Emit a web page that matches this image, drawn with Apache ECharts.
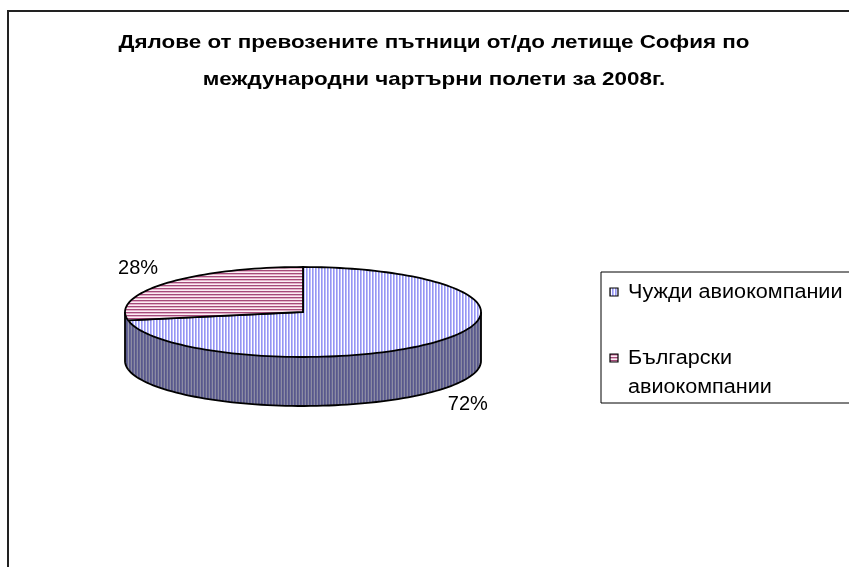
<!DOCTYPE html>
<html>
<head>
<meta charset="UTF-8">
<title>Дялове от превозените пътници</title>
<script src="https://cdn.jsdelivr.net/npm/echarts@6/dist/echarts.min.js"></script>
<style>
  html, body { margin: 0; padding: 0; background: #fff; }
  #main { width: 849px; height: 567px; }
</style>
</head>
<body>
<div id="main"></div>
<script>
var categories = ['Чужди авиокомпании', 'Български авиокомпании'];
var shares = [72, 28];
var legendLines = [['Чужди авиокомпании'], ['Български', 'авиокомпании']];
var titleLines = ['Дялове от превозените пътници от/до летище София по', 'международни чартърни полети за 2008г.'];

// 3d pie geometry
var cx = 303, cy = 312, rx = 178, ry = 45, depth = 49;
var FONT = '"Liberation Sans", Arial, sans-serif';

function stripes(colors, vertical) {
  var c = document.createElement('canvas');
  c.width = vertical ? colors.length : 1;
  c.height = vertical ? 1 : colors.length;
  var ctx = c.getContext('2d');
  colors.forEach(function (col, i) {
    ctx.fillStyle = col;
    if (vertical) ctx.fillRect(i, 0, 1, 1);
    else ctx.fillRect(0, i, 1, 1);
  });
  return { image: c, repeat: 'repeat' };
}

var fills = [
  stripes(['#9696f2', '#bcbcfc', '#ffffff'], true),
  stripes(['#a44a7a', '#e4b0ca', '#fbeef4'], false)
];
var sideFill = stripes(['#58588a', '#666696', '#8c8ca2'], true);

var total = shares.reduce(function (a, b) { return a + b; }, 0);

function pt(a, dy) {
  var r = a * Math.PI / 180;
  return [cx + rx * Math.cos(r), cy - ry * Math.sin(r) + (dy || 0)];
}
function arc(a0, a1, dy) {
  var n = Math.max(2, Math.ceil(Math.abs(a0 - a1) / 2));
  var pts = [];
  for (var i = 0; i <= n; i++) pts.push(pt(a0 + (a1 - a0) * i / n, dy));
  return pts;
}

function renderSlice(params, api) {
  var i = params.dataIndex;
  var before = 0;
  for (var k = 0; k < i; k++) before += shares[k];
  var val = api.value(0);
  var a0 = 90 - before / total * 360;
  var a1 = a0 - val / total * 360;
  var children = [];
  var line = { stroke: '#000', lineWidth: 1.8, fill: null };

  // front wall, only the part facing the viewer
  for (var k = -1; k <= 1; k++) {
    var s = Math.min(a0, 360 * k), e = Math.max(a1, 360 * k - 180);
    if (s <= e) continue;
    children.push({
      type: 'polygon',
      shape: { points: arc(s, e, 0).concat(arc(e, s, depth)) },
      style: { fill: sideFill }
    });
    children.push({ type: 'polyline', shape: { points: arc(s, e, depth) }, style: line });
    if (s === 360 * k) children.push({ type: 'polyline', shape: { points: [pt(s, 0), pt(s, depth)] }, style: line });
    if (e === 360 * k - 180) children.push({ type: 'polyline', shape: { points: [pt(e, 0), pt(e, depth)] }, style: line });
  }

  children.push({
    type: 'polygon',
    shape: { points: [[cx, cy]].concat(arc(a0, a1, 0)) },
    style: { fill: fills[i], stroke: '#000', lineWidth: 1.8 }
  });

  // percent label outside the slice
  var mid = (a0 + a1) / 2 * Math.PI / 180;
  var sn = Math.sin(mid), cs = Math.cos(mid);
  children.push({
    type: 'text',
    x: cx + 188 * cs,
    y: cy - 68 * sn + (sn < 0 ? depth : 0),
    style: {
      text: Math.round(val / total * 100) + '%',
      font: '20px ' + FONT, fill: '#000',
      align: cs < 0 ? 'right' : 'left', verticalAlign: 'middle'
    }
  });
  return { type: 'group', children: children };
}

var legendGraphics = [
  { type: 'rect', shape: { x: 601, y: 272, width: 300, height: 131 },
    style: { fill: '#fff', stroke: '#000', lineWidth: 1 } }
];
var legendY = [292, 358];
legendLines.forEach(function (lines, i) {
  legendGraphics.push({ type: 'rect', shape: { x: 610, y: legendY[i] - 4, width: 8, height: 8 },
    style: { fill: fills[i], stroke: '#000', lineWidth: 1.2 } });
  lines.forEach(function (txt, j) {
    legendGraphics.push({ type: 'text', x: 628, y: legendY[i] + j * 29, scaleX: 1.08,
      style: { text: txt, font: '20px ' + FONT, fill: '#000', verticalAlign: 'middle' } });
  });
});

var titleGraphics = titleLines.map(function (txt, j) {
  return { type: 'text', x: 434, y: 43 + j * 37, scaleX: 1.18,
    style: { text: txt, font: 'bold 19px ' + FONT, fill: '#000', align: 'center', verticalAlign: 'middle' } };
});

var chart = echarts.init(document.getElementById('main'));
chart.setOption({
  animation: false,
  backgroundColor: '#fff',
  graphic: [
    { type: 'rect', shape: { x: 8, y: 11, width: 900, height: 600 },
      style: { fill: null, stroke: '#222', lineWidth: 2 } }
  ].concat(titleGraphics, legendGraphics),
  series: [{
    type: 'custom',
    name: 'Дялове',
    coordinateSystem: 'none',
    data: shares.map(function (v, i) { return { name: categories[i], value: [v] }; }),
    renderItem: renderSlice
  }]
});
</script>
</body>
</html>
